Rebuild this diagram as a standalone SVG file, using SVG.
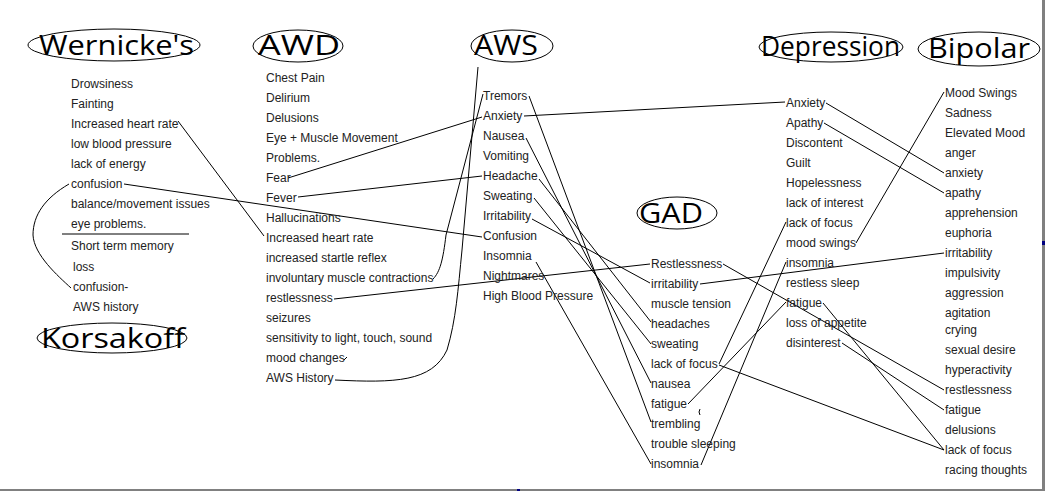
<svg xmlns="http://www.w3.org/2000/svg" width="1045" height="491" viewBox="0 0 1045 491">
<style>
.t{font-family:"Liberation Sans",Arial,sans-serif;font-size:12px;fill:#222}
.h{font-family:"Open Sans","Noto Sans",sans-serif;font-size:28px;fill:#000}
.e{fill:none;stroke:#000;stroke-width:1}
.c{fill:none;stroke:#000;stroke-width:1}
</style>
<rect x="0" y="0" width="1045" height="491" fill="#fff"/>

<g id="connectors">
<path class="c" d="M178,121 L264,236"/>
<path class="c" d="M124,184 L482,237"/>
<path class="c" d="M69,184 C45,198 33,215 33,235 C34,255 58,276 71,288"/>
<path class="c" d="M288,178 L482,117"/>
<path class="c" d="M298,197 L482,176"/>
<path class="c" d="M433,279 C440,272 443,260 446,235 L483,94"/>
<path class="c" d="M334,299 L650,264"/>
<path class="c" d="M335,380 C395,383 432,382 447,350 C456,320 458,290 462,250 L478,67"/>
<path class="c" d="M344,360 L347,357"/>
<path class="c" d="M529,96 L651,422"/>
<path class="c" d="M524,116 L785,102"/>
<path class="c" d="M526,138 L651,383"/>
<path class="c" d="M539,179 L651,322"/>
<path class="c" d="M534,198 L651,344"/>
<path class="c" d="M532,219 L650,283"/>
<path class="c" d="M536,262 L651,464"/>
<path class="c" d="M723,264 L944,390"/>
<path class="c" d="M700,284 L944,253"/>
<path class="c" d="M719,364 L786,222"/>
<path class="c" d="M719,365 L944,450"/>
<path class="c" d="M688,404 L786,302"/>
<path class="c" d="M701,465 L786,262"/>
<path class="c" d="M826,103 L944,173"/>
<path class="c" d="M824,123 L944,193"/>
<path class="c" d="M856,243 L944,92"/>
<path class="c" d="M823,303 L944,450"/>
<path class="c" d="M842,343 L944,410"/>
<path class="c" d="M700,409 Q698,412 700,415"/>
</g>

<g id="wernickes">
<ellipse class="e" cx="114" cy="45" rx="86" ry="16"/>
<text class="h" x="39" y="55" textLength="155" lengthAdjust="spacingAndGlyphs">Wernicke's</text>
<text class="t" x="71" y="88">Drowsiness</text>
<text class="t" x="71" y="108">Fainting</text>
<text class="t" x="71" y="128">Increased heart rate</text>
<text class="t" x="71" y="148">low blood pressure</text>
<text class="t" x="71" y="168">lack of energy</text>
<text class="t" x="71" y="188">confusion</text>
<text class="t" x="71" y="208">balance/movement issues</text>
<text class="t" x="71" y="228">eye problems.</text>
<line x1="62" y1="234" x2="189" y2="234" stroke="#000" stroke-width="1"/>
</g>

<g id="korsakoff">
<text class="t" x="71" y="250">Short term memory</text>
<text class="t" x="73" y="271">loss</text>
<text class="t" x="73" y="291">confusion-</text>
<text class="t" x="73" y="311">AWS history</text>
<ellipse class="e" cx="112" cy="338" rx="75" ry="15"/>
<text class="h" x="41" y="348" textLength="144" lengthAdjust="spacingAndGlyphs">Korsakoff</text>
</g>

<g id="awd">
<ellipse class="e" cx="298" cy="46" rx="45" ry="16"/>
<text class="h" x="258" y="55" textLength="82" lengthAdjust="spacingAndGlyphs">AWD</text>
<text class="t" x="266" y="82">Chest Pain</text>
<text class="t" x="266" y="102">Delirium</text>
<text class="t" x="266" y="122">Delusions</text>
<text class="t" x="266" y="142">Eye + Muscle Movement</text>
<text class="t" x="266" y="162">Problems.</text>
<text class="t" x="266" y="182">Fear</text>
<text class="t" x="266" y="202">Fever</text>
<text class="t" x="266" y="222">Hallucinations</text>
<text class="t" x="266" y="242">Increased heart rate</text>
<text class="t" x="266" y="262">increased startle reflex</text>
<text class="t" x="266" y="282">involuntary muscle contractions</text>
<text class="t" x="266" y="302">restlessness</text>
<text class="t" x="266" y="322">seizures</text>
<text class="t" x="266" y="342">sensitivity to light, touch, sound</text>
<text class="t" x="266" y="362">mood changes</text>
<text class="t" x="266" y="382">AWS History</text>
</g>

<g id="aws">
<ellipse class="e" cx="512" cy="46" rx="41" ry="16"/>
<text class="h" x="474" y="55" textLength="64" lengthAdjust="spacingAndGlyphs">AWS</text>
<text class="t" x="483" y="100">Tremors</text>
<text class="t" x="483" y="120">Anxiety</text>
<text class="t" x="483" y="140">Nausea</text>
<text class="t" x="483" y="160">Vomiting</text>
<text class="t" x="483" y="180">Headache</text>
<text class="t" x="483" y="200">Sweating</text>
<text class="t" x="483" y="220">Irritability</text>
<text class="t" x="483" y="240">Confusion</text>
<text class="t" x="483" y="260">Insomnia</text>
<text class="t" x="483" y="280">Nightmares</text>
<text class="t" x="483" y="300">High Blood Pressure</text>
</g>

<g id="gad">
<ellipse class="e" cx="677" cy="213" rx="40" ry="16"/>
<text class="h" x="639" y="223" textLength="64" lengthAdjust="spacingAndGlyphs">GAD</text>
<text class="t" x="651" y="268">Restlessness</text>
<text class="t" x="651" y="288">irritability</text>
<text class="t" x="651" y="308">muscle tension</text>
<text class="t" x="651" y="328">headaches</text>
<text class="t" x="651" y="348">sweating</text>
<text class="t" x="651" y="368">lack of focus</text>
<text class="t" x="651" y="388">nausea</text>
<text class="t" x="651" y="408">fatigue</text>
<text class="t" x="651" y="428">trembling</text>
<text class="t" x="651" y="448">trouble sleeping</text>
<text class="t" x="651" y="468">insomnia</text>
</g>

<g id="depression">
<ellipse class="e" cx="831" cy="47" rx="72" ry="15"/>
<text class="h" x="761" y="56" textLength="139" lengthAdjust="spacingAndGlyphs">Depression</text>
<text class="t" x="786" y="107">Anxiety</text>
<text class="t" x="786" y="127">Apathy</text>
<text class="t" x="786" y="147">Discontent</text>
<text class="t" x="786" y="167">Guilt</text>
<text class="t" x="786" y="187">Hopelessness</text>
<text class="t" x="786" y="207">lack of interest</text>
<text class="t" x="786" y="227">lack of focus</text>
<text class="t" x="786" y="247">mood swings</text>
<text class="t" x="786" y="267">insomnia</text>
<text class="t" x="786" y="287">restless sleep</text>
<text class="t" x="786" y="307">fatigue</text>
<text class="t" x="786" y="327">loss of appetite</text>
<text class="t" x="786" y="347">disinterest</text>
</g>

<g id="bipolar">
<ellipse class="e" cx="979" cy="49" rx="61" ry="17"/>
<text class="h" x="928" y="58" textLength="102" lengthAdjust="spacingAndGlyphs">Bipolar</text>
<text class="t" x="945" y="97">Mood Swings</text>
<text class="t" x="945" y="117">Sadness</text>
<text class="t" x="945" y="137">Elevated Mood</text>
<text class="t" x="945" y="157">anger</text>
<text class="t" x="945" y="177">anxiety</text>
<text class="t" x="945" y="197">apathy</text>
<text class="t" x="945" y="217">apprehension</text>
<text class="t" x="945" y="237">euphoria</text>
<text class="t" x="945" y="257">irritability</text>
<text class="t" x="945" y="277">impulsivity</text>
<text class="t" x="945" y="297">aggression</text>
<text class="t" x="945" y="317">agitation</text>
<text class="t" x="945" y="334">crying</text>
<text class="t" x="945" y="354">sexual desire</text>
<text class="t" x="945" y="374">hyperactivity</text>
<text class="t" x="945" y="394">restlessness</text>
<text class="t" x="945" y="414">fatigue</text>
<text class="t" x="945" y="434">delusions</text>
<text class="t" x="945" y="454">lack of focus</text>
<text class="t" x="945" y="474">racing thoughts</text>
</g>

<g id="frame">
<rect x="1042" y="0" width="3" height="491" fill="#808080"/>
<rect x="0" y="489" width="1045" height="2" fill="#808080"/>
<rect x="517" y="489" width="3" height="2" fill="#000080"/>
<rect x="1042" y="241" width="3" height="4" fill="#000080"/>
</g>
</svg>
